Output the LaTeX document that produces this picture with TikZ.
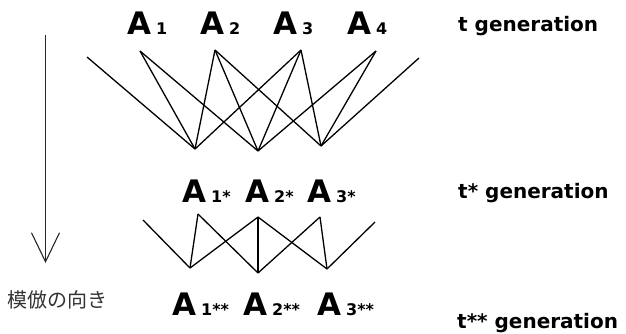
\documentclass[tikz,border=0pt]{standalone}
\usepackage{fontspec}
\setmainfont{DejaVu Sans}
\newfontfamily\jpfont{Noto Sans CJK JP}
\usetikzlibrary{arrows.meta}
\tikzset{
  letra/.style={anchor=base west, inner sep=0pt, font=\bfseries},
  geracao/.style={anchor=base west, inner sep=0pt, font=\bfseries\fontsize{20}{20}\selectfont},
  ligacao/.style={line width=1.3pt, black},
  seta/.style={-{Straight Barb[length=29pt, width=28pt, line width=1.1pt]}, line width=1.1pt, black!85},
}
% A grande com indice pequeno
\newcommand{\ind}[2]{{\fontsize{31}{31}\selectfont #1}\hspace{5pt}{\fontsize{16}{16}\selectfont #2}}

\begin{document}
\begin{tikzpicture}[x=1pt, y=-1pt]
\useasboundingbox (0,0) rectangle (626,334);

% geracao t
\node[letra] (a1) at (127,35) {\ind{A}{1}};
\node[letra] (a2) at (200,35) {\ind{A}{2}};
\node[letra] (a3) at (273,35) {\ind{A}{3}};
\node[letra] (a4) at (347,35) {\ind{A}{4}};

\coordinate (e1) at (87,57);
\coordinate (p1) at (140,51);
\coordinate (p2) at (215,50);
\coordinate (p3) at (301,50);
\coordinate (p4) at (376,51);
\coordinate (d1) at (419,58);
\coordinate (b1) at (195,149);
\coordinate (b2) at (258,151);
\coordinate (b3) at (321,146);

\draw[ligacao] (e1) -- (b1);
\draw[ligacao] (p1) -- (b1);
\draw[ligacao] (p1) -- (b2);
\draw[ligacao] (p2) -- (b1);
\draw[ligacao] (p2) -- (b2);
\draw[ligacao] (p2) -- (b3);
\draw[ligacao] (p3) -- (b1);
\draw[ligacao] (p3) -- (b2);
\draw[ligacao] (p3) -- (b3);
\draw[ligacao] (p4) -- (b2);
\draw[ligacao] (p4) -- (b3);
\draw[ligacao] (d1) -- (b3);

% geracao t*
\node[letra] (c1) at (182,202) {\ind{A}{1*}};
\node[letra] (c2) at (245,202) {\ind{A}{2*}};
\node[letra] (c3) at (307,202) {\ind{A}{3*}};

\coordinate (e2) at (143,220);
\coordinate (q1) at (198,214);
\coordinate (q2) at (258,217);
\coordinate (q3) at (320,217);
\coordinate (d2) at (375,222);
\coordinate (f1) at (190,268);
\coordinate (f2) at (258,273);
\coordinate (f3) at (327,269);

\draw[ligacao] (e2) -- (f1);
\draw[ligacao] (q1) -- (f1);
\draw[ligacao] (q1) -- (f2);
\draw[ligacao] (q2) -- (f1);
\draw[ligacao] (q2) -- (f2);
\draw[ligacao] (q2) -- (f3);
\draw[ligacao] (q3) -- (f2);
\draw[ligacao] (q3) -- (f3);
\draw[ligacao] (d2) -- (f3);

% geracao t**
\node[letra] (g1) at (172,315) {\ind{A}{1**}};
\node[letra] (g2) at (243,315) {\ind{A}{2**}};
\node[letra] (g3) at (317,315) {\ind{A}{3**}};

% rotulos
\node[geracao] (t0) at (458,32) {t generation};
\node[geracao] (t1) at (458,198) {t* generation};
\node[geracao] (t2) at (457,328) {t** generation};

% direcao da imitacao
\coordinate (topo) at (45.5,35);
\coordinate (ponta) at (45.5,263);
\draw[seta] (topo) -- (ponta);
\node[font=\jpfont\fontsize{20}{20}\selectfont, text=black!80, inner sep=0pt] (dir) at (57,300) {模倣の向き};

\end{tikzpicture}
\end{document}
